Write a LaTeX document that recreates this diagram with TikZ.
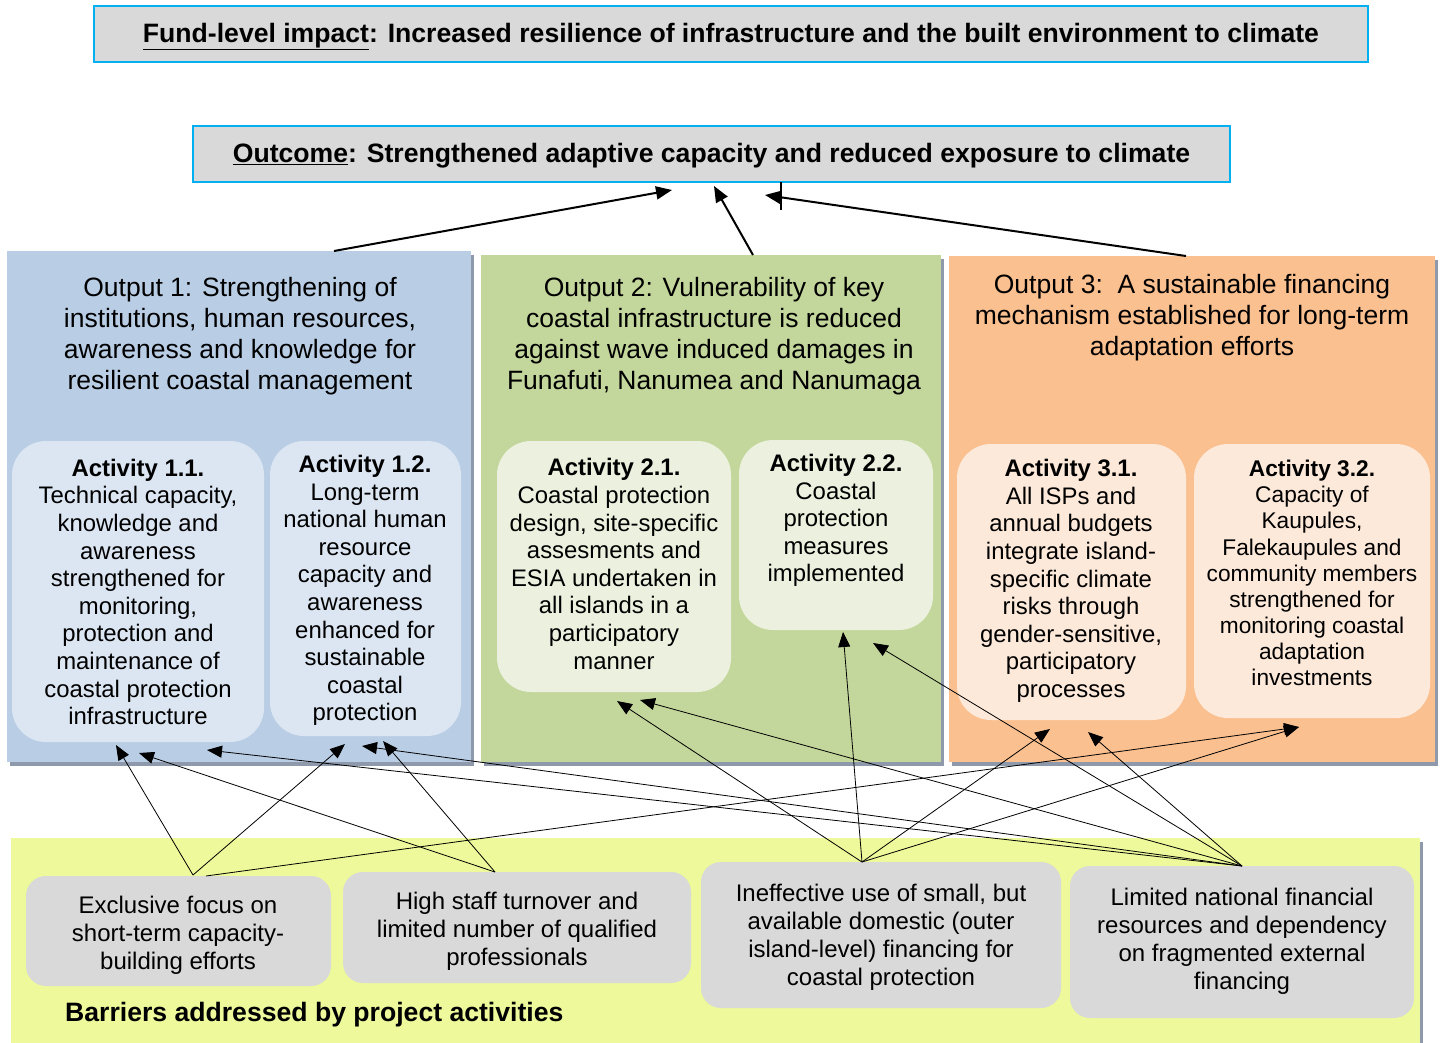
\documentclass[tikz,border=0pt]{standalone}
\usepackage{fontspec}
\setmainfont{Liberation Sans}
\usetikzlibrary{arrows.meta,shadows}
\definecolor{cyanc}{HTML}{00B0F0}
\definecolor{grayc}{HTML}{D9D9D9}
\definecolor{o1c}{HTML}{B9CDE5}
\definecolor{o2c}{HTML}{C3D69B}
\definecolor{o3c}{HTML}{FAC090}
\definecolor{a1c}{HTML}{DCE6F2}
\definecolor{a2c}{HTML}{EBF1DE}
\definecolor{a3c}{HTML}{FDE9D9}
\definecolor{panelc}{HTML}{EDF99A}
\definecolor{shadc}{HTML}{8E9AAC}
\begin{document}
\begin{tikzpicture}[x=1pt,y=-1pt,
  hdrbox/.style={draw=cyanc, line width=2pt, fill=grayc, inner sep=0pt, outer sep=0pt},
  hdrtxt/.style={inner sep=0pt, font=\fontsize{26.6}{31}\selectfont\bfseries},
  outbox/.style={draw=none, fill=#1, inner sep=0pt, outer sep=0pt,
    drop shadow={shadow xshift=3pt, shadow yshift=-4pt, fill=shadc, opacity=1}},
  actbox/.style={draw=none, fill=#1, inner sep=0pt, outer sep=0pt, rounded corners=34pt},
  barbox/.style={draw=none, fill=grayc, inner sep=0pt, outer sep=0pt, rounded corners=20pt},
  bartxt/.style={align=center, inner sep=0pt, font=\fontsize{24}{28}\selectfont},
  outtxt/.style={align=center, inner sep=0pt, font=\fontsize{26.5}{31}\selectfont},
  acttxt/.style={align=center, inner sep=0pt, font=\fontsize{23.9}{27.6}\selectfont},
  thinarr/.style={-{Triangle[length=15pt,width=12pt]}, line width=0.8pt},
  toparr/.style={-{Triangle[length=16pt,width=13pt]}, line width=2pt}
]
\useasboundingbox (0,0) rectangle (1442,1042);

% header boxes
\node[hdrbox, minimum width=1274pt, minimum height=56pt] (imp) at (731,34) {};
\node[hdrtxt] (impt) at (731,36.5)
  {\underline{Fund-level impact}: Increased resilience of infrastructure and the built environment to climate};
\node[hdrbox, minimum width=1037pt, minimum height=56pt] (outc) at (711.5,154) {};
\node[hdrtxt] (outct) at (711.5,155.5)
  {\underline{Outcome}: Strengthened adaptive capacity and reduced exposure to climate};

% output panels
\node[outbox=o1c, minimum width=464pt, minimum height=511pt] (o1) at (239,506.5) {};
\node[outbox=o2c, minimum width=460pt, minimum height=507pt] (o2) at (711,508.5) {};
\node[outbox=o3c, minimum width=486pt, minimum height=506pt] (o3) at (1192,509) {};
\node[outbox=panelc, minimum width=1409pt, minimum height=212pt] (panel) at (715.5,944) {};

\node[outtxt] (o1t) at (240,336.5) {Output 1: Strengthening of\\institutions, human resources,\\awareness and knowledge for\\resilient coastal management};
\node[outtxt] (o2t) at (714,336.5) {Output 2: Vulnerability of key\\coastal infrastructure is reduced\\against wave induced damages in\\Funafuti, Nanumea and Nanumaga};
\node[outtxt] (o3t) at (1192,317.5) {Output 3:\ \ A sustainable financing\\mechanism established for long-term\\adaptation efforts};

% activity boxes
\node[actbox=a1c, minimum width=252pt, minimum height=301pt] (a11) at (138,591.5) {};
\node[actbox=a1c, minimum width=191pt, minimum height=295pt] (a12) at (365.5,588.5) {};
\node[actbox=a2c, minimum width=234pt, minimum height=251pt] (a21) at (614,566.5) {};
\node[actbox=a2c, minimum width=194pt, minimum height=190pt] (a22) at (836,535) {};
\node[actbox=a3c, minimum width=229pt, minimum height=276pt] (a31) at (1071.5,582) {};
\node[actbox=a3c, minimum width=236pt, minimum height=274pt] (a32) at (1312,581) {};

\node[acttxt] (a11t) at (138,592) {\textbf{Activity 1.1.}\\Technical capacity,\\knowledge and\\awareness\\strengthened for\\monitoring,\\protection and\\maintenance of\\coastal protection\\infrastructure};
\node[acttxt] (a12t) at (365,590.5) {\textbf{Activity 1.2.}\\Long-term\\national human\\resource\\capacity and\\awareness\\enhanced for\\sustainable\\coastal\\protection};
\node[acttxt] (a21t) at (614,564) {\textbf{Activity 2.1.}\\Coastal protection\\design, site-specific\\assesments and\\ESIA undertaken in\\all islands in a\\participatory\\manner};
\node[acttxt] (a22t) at (836,520.5) {\textbf{Activity 2.2.}\\Coastal\\protection\\measures\\implemented};
\node[acttxt] (a31t) at (1071,581) {\textbf{Activity 3.1.}\\All ISPs and\\annual budgets\\integrate island-\\specific climate\\risks through\\gender-sensitive,\\participatory\\processes};
\node[acttxt, font=\fontsize{22.7}{26.1}\selectfont] (a32t) at (1312,573) {\textbf{Activity 3.2.}\\Capacity of\\Kaupules,\\Falekaupules and\\community members\\strengthened for\\monitoring coastal\\adaptation\\investments};

% barrier boxes
\node[barbox, minimum width=305pt, minimum height=110pt] (b1) at (178.5,931) {};
\node[barbox, minimum width=348pt, minimum height=111pt] (b2) at (517,927.5) {};
\node[barbox, minimum width=360pt, minimum height=146pt] (b3) at (881,935) {};
\node[barbox, minimum width=344pt, minimum height=152pt] (b4) at (1242,942) {};
\node[bartxt] (b1t) at (178,935) {Exclusive focus on\\short-term capacity-\\building efforts};
\node[bartxt] (b2t) at (517,931) {High staff turnover and\\limited number of qualified\\professionals};
\node[bartxt] (b3t) at (881,937.5) {Ineffective use of small, but\\available domestic (outer\\island-level) financing for\\coastal protection};
\node[bartxt] (b4t) at (1242,941.5) {Limited national financial\\resources and dependency\\on fragmented external\\financing};
\node[anchor=west, inner sep=0pt, font=\fontsize{26.6}{31}\selectfont\bfseries] (blbl) at (65,1015) {Barriers addressed by project activities};

% top connectors
\coordinate (o1s) at (334,251);
\coordinate (o2s) at (753,255);
\coordinate (o3s) at (1186,256);
\coordinate (oc1) at (672,190);
\coordinate (oc2) at (714,186);
\coordinate (oc3) at (765,195);
\coordinate (tick) at (781,210);
\draw[toparr] (o1s) -- (oc1);
\draw[toparr] (o2s) -- (oc2);
\draw[toparr] (o3s) -- (oc3);
\draw[line width=1.6pt] (outc.south -| tick) -- (tick);

% bottom connectors
\coordinate (s1) at (193,875);
\coordinate (s1r) at (206,876);
\coordinate (s2) at (495,872);
\coordinate (s3) at (862,862);
\coordinate (s4) at (1242,866);
\coordinate (t11a) at (116,745);
\coordinate (t11b) at (139,753);
\coordinate (t11c) at (207,750);
\coordinate (t12a) at (345,744);
\coordinate (t12b) at (362,746);
\coordinate (t12c) at (383,741);
\coordinate (t21a) at (617,701);
\coordinate (t21b) at (640,700);
\coordinate (t22a) at (843,632);
\coordinate (t22b) at (873,643);
\coordinate (t31a) at (1050,729);
\coordinate (t31b) at (1088,732);
\coordinate (t32) at (1299,727);

\draw[thinarr] (s1) -- (t11a);
\draw[thinarr] (s1) -- (t12a);
\draw[thinarr] (s1r) -- (t32);
\draw[thinarr] (s2) -- (t11b);
\draw[thinarr] (s2) -- (t12c);
\draw[thinarr] (s3) -- (t21a);
\draw[thinarr] (s3) -- (t22a);
\draw[thinarr] (s3) -- (t31a);
\draw[thinarr] (s3) -- (t32);
\draw[thinarr] (s4) -- (t11c);
\draw[thinarr] (s4) -- (t12b);
\draw[thinarr] (s4) -- (t21b);
\draw[thinarr] (s4) -- (t22b);
\draw[thinarr] (s4) -- (t31b);
\end{tikzpicture}
\end{document}
